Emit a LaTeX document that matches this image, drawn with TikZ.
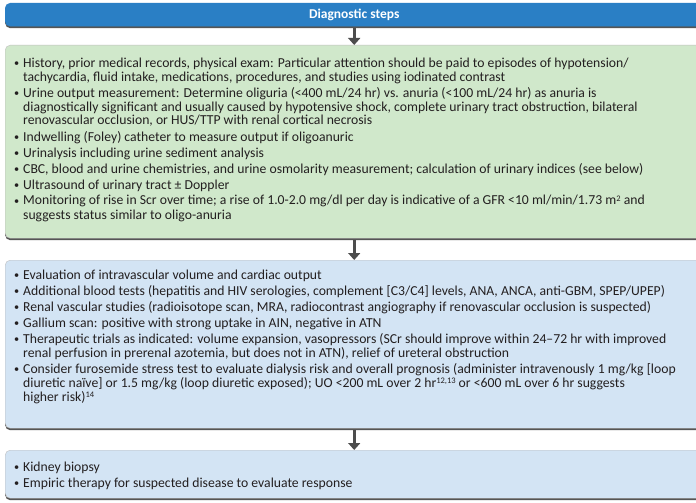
\documentclass[tikz,border=0pt]{standalone}
\usepackage{fontspec}
\setmainfont{Carlito}
\usetikzlibrary{arrows.meta,shadows}
\definecolor{hdr}{HTML}{2A7FC5}
\definecolor{grn}{HTML}{D0E8CB}
\definecolor{blu}{HTML}{D3E4F4}
\definecolor{shd}{HTML}{555555}
\definecolor{arrc}{HTML}{4D4D4D}
\definecolor{txt}{HTML}{231F20}
\newcommand{\itm}[1]{\hangindent=9pt\hangafter=1\noindent\makebox[9pt][l]{\raisebox{0.5pt}{\scalebox{0.75}{\textbullet}}}#1\par}
\newcommand{\blk}[1]{\parbox[t]{682pt}{\setlength{\parskip}{2pt}#1}}
\newcommand{\sups}[1]{\smash{\raisebox{3.8pt}{\fontsize{8.5pt}{8.5pt}\selectfont #1}}}
\begin{document}
\begin{tikzpicture}[x=1pt,y=-1pt,
  boxbase/.style={rectangle,rounded corners=5pt,anchor=north west,minimum width=698pt,inner sep=0pt,draw=black!25,line width=0.4pt,
    drop shadow={shadow xshift=0pt,shadow yshift=-2pt,fill=shd,opacity=1}},
  flowarrow/.style={draw=arrc,line width=3pt,-{Triangle[width=12pt,length=7pt]},shorten >=0pt},
  txtblock/.style={anchor=base west,inner sep=0pt,align=left,text=txt,font=\fontsize{13.7pt}{14pt}\selectfont}]
\useasboundingbox (0,0) rectangle (696,503);
\clip (0,0) rectangle (696,503);
\fill[white] (0,0) rectangle (696,503);
\node[boxbase,fill=hdr,draw=hdr,minimum height=23pt,text=white,font=\fontsize{13.5pt}{15pt}\selectfont\bfseries] (h) at (5,3) {Diagnostic steps};
\node[boxbase,fill=grn,minimum height=193pt] (g) at (5,45) {};
\node[boxbase,fill=blu,minimum height=168pt] (b) at (5,260) {};
\node[boxbase,fill=blu,minimum height=48pt] (k) at (5,450) {};
\draw[flowarrow] ([yshift=-2pt]h.south) -- (g.north);
\draw[flowarrow] ([yshift=-2pt]g.south) -- (b.north);
\draw[flowarrow] ([yshift=-2pt]b.south) -- (k.north);
\node[txtblock] (gt) at (14,67) {\blk{%
\itm{History, prior medical records, physical exam: Particular attention should be paid to episodes of hypotension/\\tachycardia, fluid intake, medications, procedures, and studies using iodinated contrast}
\itm{Urine output measurement: Determine oliguria (<400 mL/24 hr) vs. anuria (<100 mL/24 hr) as anuria is\\diagnostically significant and usually caused by hypotensive shock, complete urinary tract obstruction, bilateral\\renovascular occlusion, or HUS/TTP with renal cortical necrosis}
\itm{Indwelling (Foley) catheter to measure output if oligoanuric}
\itm{Urinalysis including urine sediment analysis}
\itm{CBC, blood and urine chemistries, and urine osmolarity measurement; calculation of urinary indices (see below)}
\itm{Ultrasound of urinary tract ± Doppler}
\itm{Monitoring of rise in Scr over time; a rise of 1.0-2.0 mg/dl per day is indicative of a GFR <10 ml/min/1.73 m\sups{2} and\\suggests status similar to oligo-anuria}}};
\node[txtblock] (bt) at (14,279) {\blk{%
\itm{Evaluation of intravascular volume and cardiac output}
\itm{Additional blood tests (hepatitis and HIV serologies, complement [C3/C4] levels, ANA, ANCA, anti-GBM, SPEP/UPEP)}
\itm{Renal vascular studies (radioisotope scan, MRA, radiocontrast angiography if renovascular occlusion is suspected)}
\itm{Gallium scan: positive with strong uptake in AIN, negative in ATN}
\itm{Therapeutic trials as indicated: volume expansion, vasopressors (SCr should improve within 24–72 hr with improved\\renal perfusion in prerenal azotemia, but does not in ATN), relief of ureteral obstruction}
\itm{Consider furosemide stress test to evaluate dialysis risk and overall prognosis (administer intravenously 1 mg/kg [loop\\diuretic naïve] or 1.5 mg/kg (loop diuretic exposed); UO <200 mL over 2 hr\sups{12,13} or <600 mL over 6 hr suggests\\higher risk)\sups{14}}}};
\node[txtblock] (kt) at (14,471) {\blk{%
\itm{Kidney biopsy}
\itm{Empiric therapy for suspected disease to evaluate response}}};
\end{tikzpicture}
\end{document}
